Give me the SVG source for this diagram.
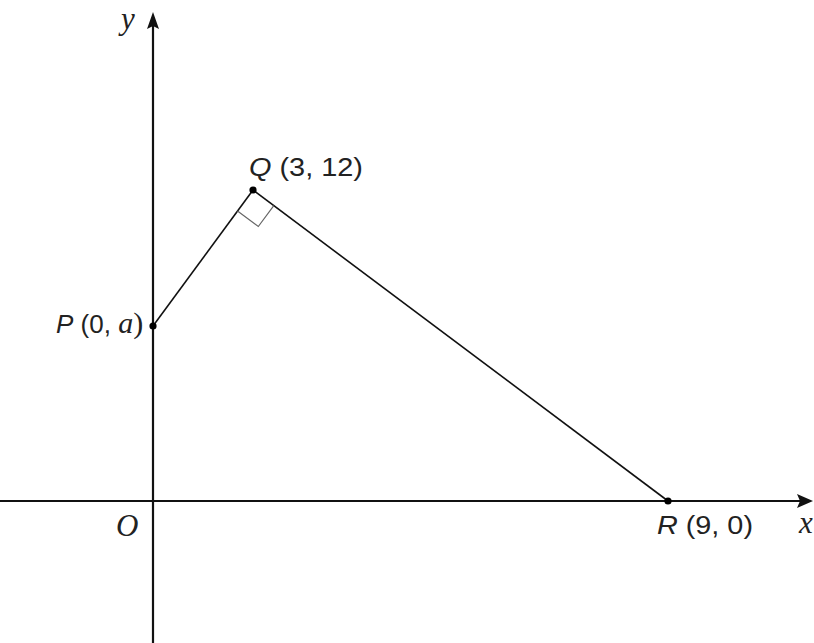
<svg xmlns="http://www.w3.org/2000/svg" width="814" height="643" viewBox="0 0 814 643">
<style>
.axis{stroke:#111;stroke-width:2.2;fill:none}
.edge{stroke:#111;stroke-width:1.6;fill:none}
.ra{stroke:#666;stroke-width:1.2;fill:none}
.dot{fill:#000}
.lbl{font-family:"Liberation Sans",Arial,sans-serif;font-size:26px;fill:#222}
.it{font-style:italic}
.var{font-family:"Liberation Serif","Times New Roman",serif;font-style:italic;font-size:31px;fill:#222}
.vars{font-family:"Liberation Serif","Times New Roman",serif;font-style:italic;font-size:30px}
.par{font-family:"Liberation Serif","Times New Roman",serif;font-style:normal;font-size:30px}
</style>
<rect width="814" height="643" fill="#fff"/>
<g id="axes">
<line class="axis" x1="0" y1="501" x2="800" y2="501"/>
<polygon points="813,501 797,494 800,501 797,508" fill="#111"/>
<line class="axis" x1="153" y1="643" x2="153" y2="26"/>
<polygon points="153,12 147,29 153,26 159,29" fill="#111"/>
<text class="var" x="121" y="29">y</text>
<text class="var" x="799" y="533">x</text>
</g>
<g id="connectors">
<line class="edge" x1="153" y1="326" x2="253" y2="190"/>
<line class="edge" x1="253" y1="190" x2="668" y2="501"/>
<polyline class="ra" points="237.5,210.9 258.3,226.5 273.8,205.6"/>
</g>
<g id="node-O">
<text class="var" x="116" y="536">O</text>
</g>
<g id="node-P">
<circle class="dot" cx="153" cy="326" r="3.6"/>
<text class="lbl" x="56" y="333"><tspan class="it">P</tspan> (0, <tspan class="vars">a</tspan><tspan class="par">)</tspan></text>
</g>
<g id="node-Q">
<circle class="dot" cx="253" cy="190" r="3.6"/>
<text class="lbl" x="249" y="176" textLength="114" lengthAdjust="spacingAndGlyphs"><tspan class="it">Q</tspan> (3, 12)</text>
</g>
<g id="node-R">
<circle class="dot" cx="668" cy="501" r="3.6"/>
<text class="lbl" x="657" y="534" textLength="96" lengthAdjust="spacingAndGlyphs"><tspan class="it">R</tspan> (9, 0)</text>
</g>
</svg>
